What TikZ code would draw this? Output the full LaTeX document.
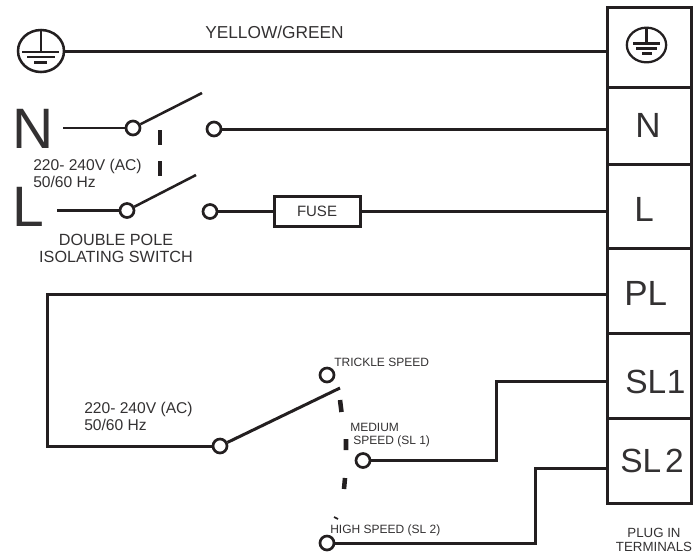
\documentclass[tikz,border=0pt]{standalone}
\usepackage{fontspec}
\setmainfont{Liberation Sans}
\usetikzlibrary{shapes.geometric}
\definecolor{ink}{HTML}{231F20}
\definecolor{txt}{HTML}{333132}
\newcommand{\pxfont}[1]{\fontsize{\dimexpr#1pt*3/4\relax}{\dimexpr#1pt*3/4\relax}\selectfont}
\tikzset{
  wire/.style={draw=ink,line width=2.25pt},
  thinwire/.style={draw=ink,line width=1.8pt},
  swarm/.style={draw=ink,line width=1.9pt},
  gang/.style={draw=ink,line width=2.4pt},
  term/.style={circle,draw=ink,fill=white,line width=2pt,minimum size=10.5pt,inner sep=0pt},
  tbox/.style={rectangle,draw=ink,line width=2.25pt,minimum width=63pt,minimum height=#1*0.75pt,inner sep=0pt},
  lab/.style={text=txt,inner sep=0pt,anchor=base west},
  labc/.style={text=txt,inner sep=0pt,anchor=base},
  labyg/.style={font=\pxfont{17.3}},
  labdp/.style={font=\pxfont{16.2}},
  labv/.style={font=\pxfont{15.6}},
  tiny/.style={font=\pxfont{12}},
  labplug/.style={font=\pxfont{13.3}},
  labfuse/.style={font=\pxfont{15}},
  tname/.style={font=\pxfont{35}},
  tnamesl/.style={font=\pxfont{33.5}},
  bigname/.style={font=\pxfont{57}},
  earthring/.style={ellipse,draw=ink,fill=white,inner sep=0pt},
}
\begin{document}
\begin{tikzpicture}[x=0.75pt,y=-0.75pt]
\useasboundingbox (0,0) rectangle (693,558);
% terminal block
\node[tbox=80] (tE) at (649,47) {};
\node[tbox=77] (tN) at (649,125.5) {};
\node[tbox=84] (tL) at (649,206) {};
\node[tbox=85] (tP) at (649,290.5) {};
\node[tbox=85] (tS1) at (649,375.5) {};
\node[tbox=85] (tS2) at (649,460.5) {};
% terminal labels
\node[earthring,line width=1.7pt,minimum width=29.5pt,minimum height=26pt] (ring2) at (646.5,45) {};
\draw[ink,line width=1.7pt] (ring2.north) -- (646.5,43.5);
\draw[ink,line width=1.7pt] (633,43.5) -- (660,43.5) (636,48.5) -- (657,48.5) (642,53.5) -- (652,53.5);
\node[labc,tname] (nN) at (648,137) {N};
\node[labc,tname] (nL) at (644,221) {L};
\node[lab,tname] (nP) at (624,305) {PL};
\node[lab,tnamesl] (nS1) at (625,393) {SL\kern0.5pt 1};
\node[lab,tnamesl] (nS2) at (620,472) {SL\kern3pt 2};
\node[labc,labplug] (plug1) at (654,537) {PLUG IN};
\node[labc,labplug] (plug2) at (654,551) {TERMINALS};
% earth wire
\node[earthring,line width=1.9pt,minimum width=34.5pt,minimum height=31.5pt] (ring1) at (41,51) {};
\draw[ink,line width=1.9pt] (ring1.north) -- (41,52);
\draw[ink,line width=1.9pt] (22,52) -- (59,52) (27,57) -- (55,57) (34,62.5) -- (47,62.5);
\draw[wire] (ring1) -- (ring1 -| tE.west);
\node[lab,labyg] (yg) at (205,38) {YELLOW/GREEN};
% N switch
\node[lab,bigname] (bigN) at (12,148) {N};
\coordinate (nstart) at (63,128);
\node[term] (n1) at (133,128) {};
\node[term] (n2) at (214,129) {};
\coordinate (narm) at (202,93);
\draw[thinwire] (nstart) -- (n1);
\draw[swarm] (n1) -- (narm);
\draw[wire] (n2) -- (n2 -| tN.west);
% gang dashes
\coordinate (d1a) at (160,130); \coordinate (d1b) at (160,145);
\coordinate (d2a) at (160,161); \coordinate (d2b) at (160,176);
\draw[gang] (d1a) -- (d1b) (d2a) -- (d2b);
\node[lab,labv] (v1) at (33,170) {220- 240V (AC)};
\node[lab,labv] (h1) at (33,187) {50/60 Hz};
% L switch
\node[lab,bigname] (bigL) at (12,226) {L};
\coordinate (lstart) at (57,210.5);
\node[term] (l1) at (127,210.5) {};
\node[term] (l2) at (210,211.5) {};
\coordinate (larm) at (196,175);
\node[rectangle,draw=ink,line width=2.25pt,minimum width=64.5pt,minimum height=23pt,inner sep=0pt,text=txt,labfuse] (fuse) at (317,211.5) {FUSE};
\draw[thinwire] (lstart) -- (l1);
\draw[swarm] (l1) -- (larm);
\draw[wire] (l2) -- (fuse);
\draw[wire] (fuse) -- (fuse -| tL.west);
\node[labc,labdp] (dp1) at (116,245) {DOUBLE POLE};
\node[labc,labdp] (dp2) at (116,262) {ISOLATING SWITCH};
% speed switch
\node[term] (c) at (220,446) {};
\node[term] (tr) at (327,375) {};
\node[term] (me) at (363,460.5) {};
\node[term] (hi) at (327,543) {};
\coordinate (carm) at (340,388);
\coordinate (pl1) at (47,294);
\coordinate (pl2) at (47,446);
\draw[wire] (tP.west |- pl1) -- (pl1) -- (pl2) -- (c);
\draw[swarm,line width=2.25pt] (c) -- (carm);
\coordinate (me1) at (496,460.5);
\coordinate (me2) at (496,381);
\draw[wire] (me) -- (me1) -- (me2) -- (me2 -| tS1.west);
\coordinate (hi1) at (535,543);
\coordinate (hi2) at (535,468);
\draw[wire] (hi) -- (hi1) -- (hi2) -- (hi2 -| tS2.west);
\coordinate (s1a) at (340,400); \coordinate (s1b) at (341.5,412);
\coordinate (s2a) at (346,439); \coordinate (s2b) at (346,450);
\coordinate (s3a) at (345,478); \coordinate (s3b) at (344,489);
\coordinate (s4a) at (334,517); \coordinate (s4b) at (338,519);
\draw[ink,line width=3.4pt] (s1a) -- (s1b) (s2a) -- (s2b) (s3a) -- (s3b);
\draw[ink,line width=1.3pt] (s4a) -- (s4b);
\node[lab,labv] (v2) at (84,413) {220- 240V (AC)};
\node[lab,labv] (h2) at (84,430) {50/60 Hz};
\node[lab,tiny] (ltr) at (334,366) {TRICKLE SPEED};
\node[lab,tiny] (lm1) at (350,431) {MEDIUM};
\node[lab,tiny] (lm2) at (353,444) {SPEED (SL 1)};
\node[lab,tiny] (lhi) at (330,533) {HIGH SPEED (SL 2)};
\end{tikzpicture}
\end{document}
